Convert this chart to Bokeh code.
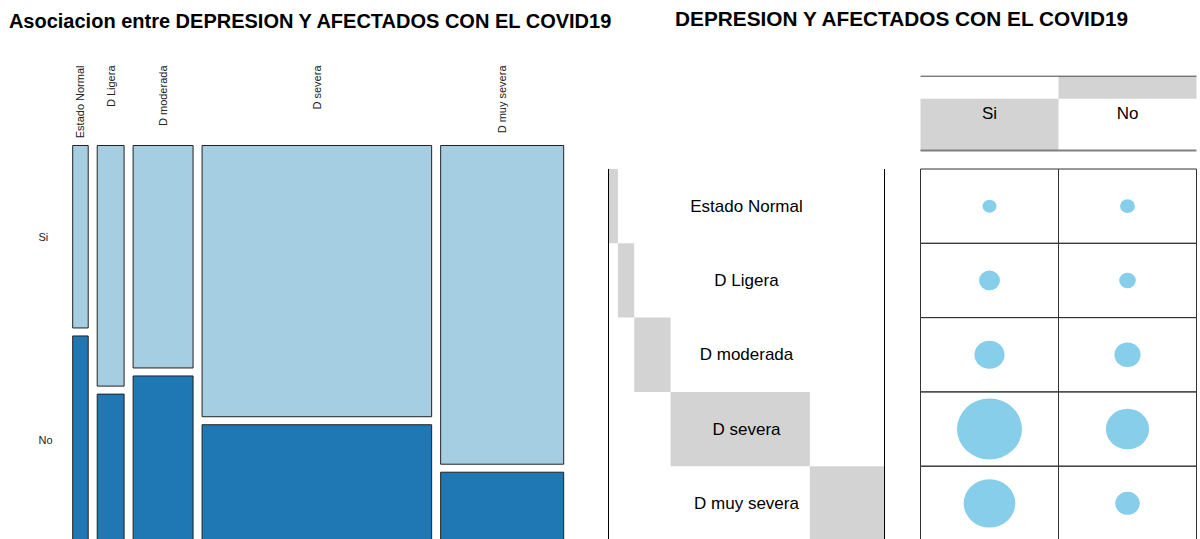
import numpy as np
from bokeh.plotting import figure
from bokeh.models import Range1d
from bokeh.core.properties import value
from bokeh.embed import file_html
from bokeh.resources import INLINE

# ---------------- data ----------------
categories = ["Estado Normal", "D Ligera", "D moderada", "D severa", "D muy severa"]
groups = ["Si", "No"]
afectados_si = [7, 16, 33, 154, 97]
afectados_no = [8, 10, 25, 68, 22]
title_left = "Asociacion entre DEPRESION Y AFECTADOS CON EL COVID19"
title_right = "DEPRESION Y AFECTADOS CON EL COVID19"

# ---------------- styles ----------------
FONT = "Liberation Sans"
LIGHT = "#A6CEE3"
DARK = "#1F78B4"
EDGE = "#222222"
GRAYBAR = "#D3D3D3"
DOT = "#87CEEB"
W, H = 1200, 539

si = np.array(afectados_si, dtype=float)
no = np.array(afectados_no, dtype=float)
tot = si + no
N = tot.sum()
n = len(categories)

# ---- mosaic scale (default ranges): units of proportion ----
KX, KY = 455.0, 391.0          # px per unit of proportion
GX, GY = 9.0 / KX, 8.0 / KY    # gaps between tiles
X0, YB = 72.2, 544.0           # px position of the mosaic origin


def mx(px):
    return (px - X0) / KX


def my(px):
    return (YB - px) / KY


# ---- balloon scale (extra ranges): units of cells ----
CX, RY = 138.0, 74.3           # px per column / per row
GL, GT = 920.0, 168.5          # px position of grid top-left


def rx(px):
    return (px - GL) / CX


def ry(px):
    return (px - GT) / RY


p = figure(width=W, height=H, x_range=Range1d(mx(0), mx(W)),
           y_range=Range1d(my(H), my(0)), output_backend="svg",
           toolbar_location=None, min_border=0, x_axis_location=None,
           y_axis_location=None, outline_line_color=None,
           background_fill_color="white", border_fill_color="white")
p.grid.visible = False
p.extra_x_ranges = {"bx": Range1d(rx(0), rx(W))}
p.extra_y_ranges = {"by": Range1d(ry(H), ry(0))}
B = dict(x_range_name="bx", y_range_name="by")

# ================= left: mosaic plot =================
wfrac = tot / N
left = np.concatenate([[0.0], np.cumsum(wfrac)[:-1]]) + GX * np.arange(n)
right = left + wfrac
p_no = no / tot

p.quad(left=left, right=right, bottom=0, top=p_no, fill_color=DARK,
       line_color=EDGE, line_width=1)
p.quad(left=left, right=right, bottom=p_no + GY, top=1 + GY, fill_color=LIGHT,
       line_color=EDGE, line_width=1)

p.text(x=(left + right) / 2, y=[my(65)] * n, text=categories, angle=np.pi / 2,
       text_align="right", text_baseline="middle", text_font=value(FONT),
       text_font_size="11px", text_color="#222222")
p.text(x=[mx(38)] * 2, y=[p_no[0] + GY + (1 - p_no[0]) / 2, p_no[0] / 2],
       text=groups, text_align="left", text_baseline="middle",
       text_font=value(FONT), text_font_size="11px", text_color="#222222")
p.text(x=[mx(310.5)], y=[my(20)], text=[title_left], text_align="center",
       text_baseline="middle", text_font=value(FONT), text_font_style="bold",
       text_font_size="20px", text_color="black")

# ================= right: balloon plot =================
rows = np.arange(n, dtype=float)
# row margin bars (staircase)
LA_L, LA_R = rx(608), rx(884)
rfrac = tot / N * (LA_R - LA_L)
rleft = LA_L + np.concatenate([[0.0], np.cumsum(rfrac)[:-1]])
p.quad(left=rleft, right=rleft + rfrac, top=rows, bottom=rows + 1,
       fill_color=GRAYBAR, line_color=None, **B)
p.segment(x0=[LA_L, LA_R], y0=[0, 0], x1=[LA_L, LA_R], y1=[n, n],
          line_color="black", line_width=1, **B)
p.text(x=[(LA_L + LA_R) / 2] * n, y=rows + 0.5, text=categories,
       text_align="center", text_baseline="middle", text_font=value(FONT),
       text_font_size="17px", text_color="black", **B)

# column margin bars
HB = ry(150)
col_tot = np.array([si.sum(), no.sum()])
cfrac = col_tot / N
cbot = HB - np.concatenate([[0.0], np.cumsum(cfrac)[:-1]])
p.quad(left=[0, 1], right=[1, 2], bottom=cbot, top=cbot - cfrac,
       fill_color=GRAYBAR, line_color=None, **B)
p.segment(x0=[0], y0=[HB - 1], x1=[2], y1=[HB - 1], line_color="#444444",
          line_width=1, **B)
p.segment(x0=[0], y0=[HB], x1=[2], y1=[HB], line_color="#808080",
          line_width=2, **B)
p.text(x=[0.5, 1.5], y=[HB - 0.5] * 2, text=groups, text_align="center",
       text_baseline="middle", text_font=value(FONT), text_font_size="17px",
       text_color="black", **B)

# grid cells and balloons
cell_x = np.concatenate([np.zeros(n), np.ones(n)])
cell_y = np.concatenate([rows, rows])
vals = np.concatenate([si, no])
p.quad(left=cell_x, right=cell_x + 1, top=cell_y, bottom=cell_y + 1,
       fill_color=None, line_color="#333333", line_width=1, **B)
scale = np.sqrt(vals / vals.max())
p.ellipse(x=cell_x + 0.5, y=cell_y + 0.5, width=65 * scale, height=61 * scale,
          width_units="screen", height_units="screen", fill_color=DOT,
          line_color=None, **B)

p.text(x=[rx(902)], y=[ry(18)], text=[title_right], text_align="center",
       text_baseline="middle", text_font=value(FONT), text_font_style="bold",
       text_font_size="20.8px", text_color="black", **B)

open("out.html", "w").write(file_html(p, INLINE))
